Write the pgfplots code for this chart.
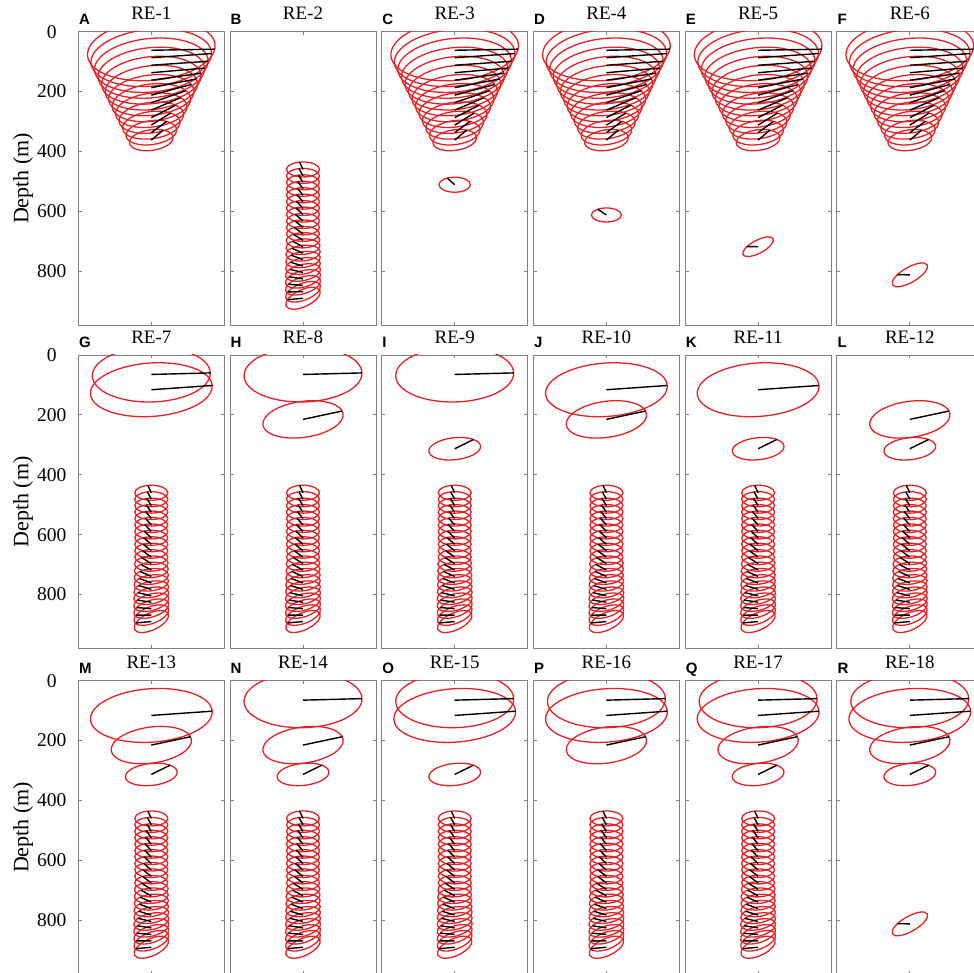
\documentclass[border=0pt]{standalone}
\usepackage{pgfplots}
\pgfplotsset{compat=1.18}
\usepackage{pgfplotstable}
\usepackage{fontspec}
\setmainfont{Liberation Serif}
\newfontfamily\lsans{Liberation Sans}
\definecolor{ellred}{RGB}{230,32,36}
\definecolor{framegray}{RGB}{128,128,128}

% ellipse mark: semi-axes a, b (pt), tilt t (deg); line: from centre to ellipse point at phase p
\pgfdeclareplotmark{tellipse}{%
  \pgftransformrotate{\elT}%
  \pgfpathellipse{\pgfpointorigin}{\pgfpoint{\elA pt}{0pt}}{\pgfpoint{0pt}{\elB pt}}%
  \pgfusepathqstroke}
\pgfdeclareplotmark{tline}{%
  \pgftransformrotate{\elT}%
  \pgfpathmoveto{\pgfpointorigin}%
  \pgfpathlineto{\pgfpoint{\elA*cos(\elP)*1pt}{\elB*sin(\elP)*1pt}}%
  \pgfusepathqstroke}

% upper funnel (RE-1, RE-3 ... RE-6)
\pgfplotstableread{
x y a b t p
0 62 64.0 30.1 5.00 -8.5
0 87 60.5 28.4 5.25 -2.7
0 112 57.0 26.8 5.50 -3.2
0 137 53.5 25.1 5.75 -1.6
0 162 50.0 23.5 6.00 4.2
0 187 46.5 21.9 6.25 10.0
0 212 43.0 20.2 6.50 17.6
0 237 39.5 18.6 6.75 24.8
0 262 36.0 16.9 7.00 31.4
0 287 32.5 15.3 7.25 37.4
0 312 29.0 13.6 7.50 44.1
0 337 25.5 12.0 7.75 48.8
0 362 22.0 10.3 8.00 53.1
}\tabF
% lower column
\pgfplotstableread{
x y a b t p
0 460 16.5 7.5 0 102
0 481.5 16.5 7.5 0 104
0 503 16.5 7.5 0 106
0 524.5 16.5 7.5 0 108
0 546 16.5 7.5 0 110
0 567.5 16.5 7.5 0 112
0 589 16.5 7.5 0 114
0 610.5 16.5 7.5 0 116
0 632 16.5 7.5 0 118
0 653.5 16.5 7.5 0 120
0 675 16.5 7.5 0 122
0 696.5 16.8 7.6 2 124
0 718 17.0 7.7 4 126
0 739.5 17.2 7.8 6 128
0 761 17.4 7.9 8 130
0 782.5 17.6 8.0 10 132
0 804 17.8 8.1 12 134
0 825.5 18.0 8.2 15 136
0 847 18.2 8.3 18 138
0 868.5 18.4 8.4 21 140
0 890 18.6 8.5 25 142
}\tabC
\pgfplotstableread{
x y a b t p
0 65 59 27.5 1.5 0
}\tabUa
\pgfplotstableread{
x y a b t p
0 116 61 26.7 4 0
}\tabUb
\pgfplotstableread{
x y a b t p
0 215 40.5 18 8 9
}\tabUc
\pgfplotstableread{
x y a b t p
0 313 26 11 6 41
}\tabUd
\pgfplotstableread{
x y a b t p
0 511 15.7 7.5 0 118
}\tabSa
\pgfplotstableread{
x y a b t p
0 612 15 7 0 125
}\tabSb
\pgfplotstableread{
x y a b t p
0 718 17 6.5 28 125
}\tabSc
\pgfplotstableread{
x y a b t p
0 812 20 7.5 30 122
}\tabSd

\pgfplotsset{
  ellplot/.style={scatter, only marks, mark=tellipse, line width=1.3pt,
    scatter/use mapped color={draw=ellred, fill=none},
    visualization depends on={\thisrow{a}\as\elA},
    visualization depends on={\thisrow{b}\as\elB},
    visualization depends on={\thisrow{t}\as\elT},
    visualization depends on={\thisrow{p}\as\elP}},
  lineplot/.style={ellplot, mark=tline, line width=1.4pt,
    scatter/use mapped color={draw=black, fill=none}},
  panel/.style={
    scale only axis, width=146pt, height=293.5pt, anchor=north west,
    xmin=-73, xmax=73, ymin=0, ymax=980, y dir=reverse,
    xtick={0}, xticklabels={}, ytick={0,200,400,600,800}, yticklabels={},
    tick align=inside, xtick pos=both, ytick pos=both,
    major tick length=3.5pt,
    axis line style={draw=framegray, line width=0.8pt},
    every tick/.style={draw=framegray, line width=0.8pt},
    clip marker paths=true,
    point meta min=0, point meta max=1,
    title style={at={(0.5,1)}, anchor=base, yshift=5.7pt, inner sep=0pt,
      font=\fontsize{19}{20}\selectfont},
  },
  firstcol/.style={
    yticklabels={0,200,400,600,800},
    yticklabel style={font=\fontsize{19.5}{20}\selectfont, text width=31pt,
      align=center, anchor=east, inner sep=0pt, xshift=-10.8pt},
    ylabel={Depth (m)},
    ylabel style={at={(axis description cs:-0.379,0.5)}, anchor=center,
      font=\fontsize{22}{24}\selectfont},
  },
  tag/.style={extra description/.code={%
    \node[anchor=base west, inner sep=0pt, xshift=0.5pt, yshift=7.3pt,
      font=\lsans\bfseries\fontsize{15}{16}\selectfont] at (0,1) {#1};}},
}
\newcommand\EL[1]{\addplot[ellplot] table[x=x,y=y]{#1};}
\newcommand\LN[1]{\addplot[lineplot] table[x=x,y=y]{#1};}

\begin{document}
\begin{tikzpicture}
% ---------- row 1 ----------
\begin{axis}[panel, firstcol, at={(78.3pt,941.3pt)}, title={RE-1}, tag=A]
\EL\tabF \LN\tabF
\end{axis}
\begin{axis}[panel, at={(230.0pt,941.3pt)}, title={RE-2}, tag=B]
\EL\tabC \LN\tabC
\end{axis}
\begin{axis}[panel, at={(381.7pt,941.3pt)}, title={RE-3}, tag=C]
\EL\tabF \EL\tabSa \LN\tabF \LN\tabSa
\end{axis}
\begin{axis}[panel, at={(533.4pt,941.3pt)}, title={RE-4}, tag=D]
\EL\tabF \EL\tabSb \LN\tabF \LN\tabSb
\end{axis}
\begin{axis}[panel, at={(685.1pt,941.3pt)}, title={RE-5}, tag=E]
\EL\tabF \EL\tabSc \LN\tabF \LN\tabSc
\end{axis}
\begin{axis}[panel, at={(836.8pt,941.3pt)}, title={RE-6}, tag=F]
\EL\tabF \EL\tabSd \LN\tabF \LN\tabSd
\end{axis}
% ---------- row 2 ----------
\begin{axis}[panel, firstcol, at={(78.3pt,618pt)}, title={RE-7}, tag=G]
\EL\tabUa \EL\tabUb \EL\tabC \LN\tabUa \LN\tabUb \LN\tabC
\end{axis}
\begin{axis}[panel, at={(230.0pt,618pt)}, title={RE-8}, tag=H]
\EL\tabUa \EL\tabUc \EL\tabC \LN\tabUa \LN\tabUc \LN\tabC
\end{axis}
\begin{axis}[panel, at={(381.7pt,618pt)}, title={RE-9}, tag=I]
\EL\tabUa \EL\tabUd \EL\tabC \LN\tabUa \LN\tabUd \LN\tabC
\end{axis}
\begin{axis}[panel, at={(533.4pt,618pt)}, title={RE-10}, tag=J]
\EL\tabUb \EL\tabUc \EL\tabC \LN\tabUb \LN\tabUc \LN\tabC
\end{axis}
\begin{axis}[panel, at={(685.1pt,618pt)}, title={RE-11}, tag=K]
\EL\tabUb \EL\tabUd \EL\tabC \LN\tabUb \LN\tabUd \LN\tabC
\end{axis}
\begin{axis}[panel, at={(836.8pt,618pt)}, title={RE-12}, tag=L]
\EL\tabUc \EL\tabUd \EL\tabC \LN\tabUc \LN\tabUd \LN\tabC
\end{axis}
% ---------- row 3 ----------
\begin{axis}[panel, firstcol, at={(78.3pt,292.3pt)}, title={RE-13}, tag=M]
\EL\tabUb \EL\tabUc \EL\tabUd \EL\tabC \LN\tabUb \LN\tabUc \LN\tabUd \LN\tabC
\end{axis}
\begin{axis}[panel, at={(230.0pt,292.3pt)}, title={RE-14}, tag=N]
\EL\tabUa \EL\tabUc \EL\tabUd \EL\tabC \LN\tabUa \LN\tabUc \LN\tabUd \LN\tabC
\end{axis}
\begin{axis}[panel, at={(381.7pt,292.3pt)}, title={RE-15}, tag=O]
\EL\tabUa \EL\tabUb \EL\tabUd \EL\tabC \LN\tabUa \LN\tabUb \LN\tabUd \LN\tabC
\end{axis}
\begin{axis}[panel, at={(533.4pt,292.3pt)}, title={RE-16}, tag=P]
\EL\tabUa \EL\tabUb \EL\tabUc \EL\tabC \LN\tabUa \LN\tabUb \LN\tabUc \LN\tabC
\end{axis}
\begin{axis}[panel, at={(685.1pt,292.3pt)}, title={RE-17}, tag=Q]
\EL\tabUa \EL\tabUb \EL\tabUc \EL\tabUd \EL\tabC \LN\tabUa \LN\tabUb \LN\tabUc \LN\tabUd \LN\tabC
\end{axis}
\begin{axis}[panel, at={(836.8pt,292.3pt)}, title={RE-18}, tag=R]
\EL\tabUa \EL\tabUb \EL\tabUc \EL\tabUd \EL\tabSd \LN\tabUa \LN\tabUb \LN\tabUc \LN\tabUd \LN\tabSd
\end{axis}
\pgfresetboundingbox
\path[use as bounding box] (0pt,0pt) rectangle (974pt,973pt);
\end{tikzpicture}
\end{document}
